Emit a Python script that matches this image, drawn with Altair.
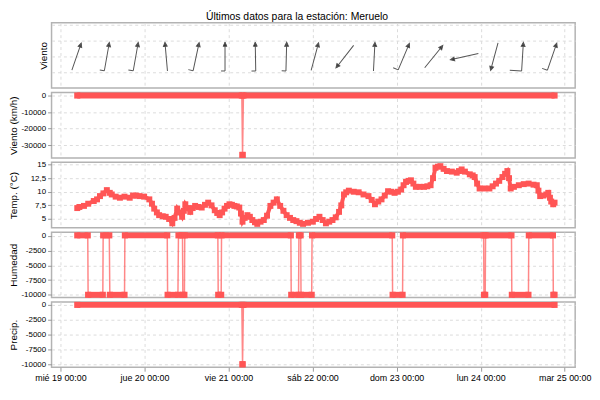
import altair as alt
import pandas as pd

# ---------------- data (hours since mié 19-03-2025 00:00 UTC) ----------------
# wind direction arrows
arrow_hours = [4.6, 13.25, 21.5, 30.2, 38.75, 47.0, 55.7, 64.5, 72.65, 81.2,
               89.6, 98.05, 106.6, 115.35, 123.9, 131.95, 140.4]
arrow_dir = [19, 10, 10, 355, 12, 0, 359, 1.5, 15, 218,
             3, 23, 39, 257, 195, 3.5, 19]
arrow_barb = [0, 4.7, 5, 0, 5, 4, 4.3, 4.3, 0, 0,
              0, 5.5, 0, 0, 0, 12, 5.7]

# wind speed (km/h): constant runs
wind_start = [4.8, 52.0, 52.25]
wind_end = [51.8, 52.0, 141.1]
wind_level = [0, -35996.4, 0]

# precipitation runs
prec_start = [4.8, 52.0, 52.25]
prec_end = [51.8, 52.0, 141.1]
prec_level = [0, -9999, 0]

# humidity runs
hum_start = [4.8, 7.9, 12.2, 14.1, 18.4, 30.6, 33.7, 34.95, 35.5, 45.05, 46.0,
             65.9, 68.1, 68.7, 71.85, 94.85, 97.8, 120.95, 121.4, 128.9, 133.75, 140.75]
hum_end = [7.8, 12.1, 13.95, 18.3, 30.5, 33.55, 34.85, 35.4, 44.95, 45.9, 65.8,
           68.0, 68.6, 71.75, 94.75, 97.7, 120.85, 121.3, 128.8, 133.65, 140.65, 141.1]
hum_level = [90, -9999, 90, -9999, 90, -9999, 90, -9999, 90, -9999, 90,
             -9999, 90, -9999, 90, -9999, 90, -9999, 90, -9999, 90, -9999]

# temperature
temp_hours = [4.8, 5.41, 6.72, 7.93, 9.52, 10.45, 11.29, 12.27, 13.25, 14.09, 14.65,
              15.77, 16.98, 18.29, 19.78, 20.73, 21.65, 22.58, 23.9, 25.38, 26.14,
              26.78, 27.54, 28.18, 29.22, 30.06, 31.04, 31.94, 32.58, 33.34, 33.98,
              34.74, 35.24, 35.66, 36.36, 37.06, 37.76, 38.46, 39.39, 40.34, 41.27,
              42.19, 43.14, 44.07, 44.77, 45.47, 46.17, 46.87, 47.57, 48.27, 48.97,
              49.67, 50.37, 51.07, 51.55, 51.99, 52.61, 53.39, 54.09, 54.8, 55.55,
              56.2, 57.15, 58.07, 59.0, 59.95, 60.87, 61.8, 62.75, 63.68, 64.6,
              65.55, 66.48, 67.4, 68.35, 69.28, 70.68, 72.08, 73.0, 73.96, 74.88,
              75.81, 76.76, 77.68, 78.61, 79.56, 80.2, 80.96, 81.6, 82.36, 83.76,
              85.16, 86.56, 87.96, 88.89, 89.81, 90.76, 91.69, 92.61, 93.56, 94.49,
              95.41, 96.37, 97.29, 97.99, 98.69, 99.39, 100.09, 100.79, 101.49, 102.61,
              103.82, 104.77, 105.7, 106.4, 107.1, 107.8, 108.5, 109.42, 110.37, 111.77,
              113.17, 113.81, 114.57, 115.5, 116.9, 117.73, 118.29, 118.99, 119.7, 121.1,
              122.5, 123.42, 124.38, 125.3, 126.23, 126.98, 127.63, 128.1, 128.58, 129.5,
              130.9, 132.3, 133.7, 135.1, 136.03, 136.5, 136.99, 137.91, 138.75, 139.31,
              139.79, 140.15, 140.71, 141.1]
temp_values = [7.0, 7.2, 7.4, 7.8, 8.3, 8.6, 9.2, 9.7, 10.3, 9.8, 9.5,
               9.1, 8.9, 9.1, 8.9, 9.3, 9.3, 9.2, 9.1, 8.6, 7.8,
               6.9, 6.2, 5.7, 5.5, 5.4, 5.0, 4.2, 5.2, 6.9, 6.2,
               5.4, 6.5, 7.7, 7.0, 6.3, 7.0, 7.4, 7.2, 7.1, 7.6,
               8.0, 7.5, 6.6, 6.1, 5.7, 6.2, 6.9, 7.4, 7.7, 7.6,
               7.4, 7.3, 7.1, 6.0, 4.5, 5.2, 5.7, 5.4, 4.8, 4.4,
               4.1, 4.5, 4.8, 5.6, 7.4, 8.0, 8.6, 7.4, 6.5, 5.7,
               5.2, 4.8, 4.6, 4.3, 4.1, 4.3, 4.5, 5.0, 5.4, 4.8,
               4.2, 4.5, 4.8, 5.3, 6.3, 7.5, 9.5, 9.9, 10.2, 10.0,
               9.9, 9.5, 9.2, 8.5, 7.7, 8.2, 8.6, 9.3, 10.1, 10.0,
               9.8, 10.0, 10.4, 11.2, 11.8, 12.0, 12.1, 11.5, 10.9, 10.9,
               10.9, 11.0, 11.2, 12.5, 14.4, 14.6, 14.7, 14.2, 13.8, 13.7,
               13.5, 13.8, 14.1, 13.7, 13.2, 13.0, 12.7, 11.5, 10.6, 10.6,
               10.6, 11.0, 11.5, 12.0, 12.7, 13.3, 13.8, 12.5, 10.6, 10.9,
               11.2, 11.4, 11.5, 11.3, 11.2, 10.2, 9.2, 9.3, 9.5, 9.8,
               8.9, 8.2, 7.7, 8.0]

day_ticks_hours = [0, 24, 48, 72, 96, 120, 144]

# ---------------- helpers ----------------
BASE = pd.Timestamp("2025-03-19T00:00:00Z")


def ms(h):
    return int((BASE + pd.Timedelta(hours=h)).value // 10**6)


RED = "#ff5555"
W, H = 529, 66
FONT = "Liberation Sans"
XS = alt.Scale(type="utc", domain=[ms(-2.54), ms(146.99)])
DAY_EXPR = ("['dom','lun','mar','mié','jue','vie','sáb'][utcday(datum.value)]"
            " + ' ' + utcFormat(datum.value, '%d %H:%M')")


def xaxis(bottom):
    if bottom:
        return alt.Axis(values=[ms(h) for h in day_ticks_hours], grid=True, labels=True,
                        ticks=True, title=None, labelExpr=DAY_EXPR, labelFontSize=9,
                        labelPadding=2, labelOverlap=False)
    return alt.Axis(values=[ms(h) for h in day_ticks_hours], grid=True, labels=False,
                    ticks=False, title=None)


def run_panel(starts, ends, levels, domain, ticks, title, bottom=False):
    rows = []
    for i, (a, b, lv) in enumerate(zip(starts, ends, levels)):
        rows.append(dict(o=2 * i, t=ms(a), v=lv))
        rows.append(dict(o=2 * i + 1, t=ms(b), v=lv))
    pts = pd.DataFrame(rows)
    seg = pd.DataFrame(dict(t=[ms(a) for a in starts], t1=[ms(b) for b in ends], v=levels))
    y = alt.Y("v:Q", scale=alt.Scale(domain=domain, nice=False, zero=False),
              axis=alt.Axis(values=ticks, title=title, titleX=-33, labelOverlap=False,
                            labelExpr="datum.value + ''"))
    x = alt.X("t:T", scale=XS, axis=xaxis(bottom))
    line = alt.Chart(pts).mark_line(color=RED, strokeWidth=1.5, opacity=0.7).encode(
        x=x, y=y, order="o:Q")
    band = alt.Chart(seg).mark_rule(color=RED, strokeWidth=6).encode(x=x, x2="t1:T", y=y)
    sq = alt.Chart(pts).mark_point(shape="square", filled=True, size=38, color=RED,
                                   opacity=1).encode(x=x, y=y)
    return alt.layer(line, band, sq).properties(width=W, height=H)


# ---------------- panel 1: wind direction ----------------
ARROW = "M0,1L0,-1M-0.13,-0.72L0,-1L0.13,-0.72Z"
arr = pd.DataFrame(dict(t=[ms(h) for h in arrow_hours], y=[2] * len(arrow_hours),
                        dir=arrow_dir, barb=arrow_barb))
arr["tail"] = ["M0,1L%.3f,1" % (-b / 14.5) for b in arr["barb"]]
yv = alt.Y("y:Q", scale=alt.Scale(domain=[0, 4.15], nice=False, zero=False),
           axis=alt.Axis(values=[1, 2, 3, 4], labels=False, ticks=False, title="Viento"))
xv = alt.X("t:T", scale=XS, axis=xaxis(False))
arrows = alt.Chart(arr).mark_point(shape=ARROW, size=840, fill="#111", stroke="#555",
                                   strokeWidth=1, opacity=1, fillOpacity=1).encode(
    x=xv, y=yv, angle=alt.Angle("dir:Q", scale=None))
tails = alt.Chart(arr).transform_filter("datum.barb > 0").mark_point(
    size=840, filled=False, stroke="#555", strokeWidth=1, opacity=1).encode(
    x=xv, y=yv, angle=alt.Angle("dir:Q", scale=None),
    shape=alt.Shape("tail:N", scale=None))
p1 = alt.layer(arrows, tails).properties(width=W, height=H)

# ---------------- panel 2: wind speed ----------------
p2 = run_panel(wind_start, wind_end, wind_level, [-37800, 1800],
               [0, -10000, -20000, -30000], "Viento (km/h)")

# ---------------- panel 3: temperature ----------------
tdf = pd.DataFrame(dict(t=[ms(h) for h in temp_hours], v=temp_values))
ty = alt.Y("v:Q", scale=alt.Scale(domain=[3.4, 15.4], nice=False, zero=False),
           axis=alt.Axis(values=[5, 7.5, 10, 12.5, 15], title="Temp. (°C)", titleX=-33,
                         labelOverlap=False,
                         labelExpr="replace(datum.value + '', '.', ',')"))
tx = alt.X("t:T", scale=XS, axis=xaxis(False))
tline = alt.Chart(tdf).mark_line(color=RED, strokeWidth=4).encode(x=tx, y=ty)
tpts = alt.Chart(tdf).mark_point(shape="square", filled=True, size=36, color=RED,
                                 opacity=1).encode(x=tx, y=ty)
p3 = alt.layer(tline, tpts).properties(width=W, height=H)

# ---------------- panel 4: humidity ----------------
p4 = run_panel(hum_start, hum_end, hum_level, [-10450, 640],
               [0, -2500, -5000, -7500, -10000], "Humedad")

# ---------------- panel 5: precipitation ----------------
p5 = run_panel(prec_start, prec_end, prec_level, [-10500, 500],
               [0, -2500, -5000, -7500, -10000], "Precip.", bottom=True)

chart = alt.vconcat(p1, p2, p3, p4, p5, spacing=4.5, bounds="flush").properties(
    title=alt.TitleParams("Últimos datos para la estación: Meruelo", fontSize=10.5,
                          fontWeight="normal", font=FONT, anchor="middle", color="black",
                          offset=0, dx=-3),
    padding={"left": 0, "top": 1, "right": 0, "bottom": 0},
).configure_view(stroke="#b3b3b3", strokeWidth=1.5).configure_axis(
    labelFont=FONT, labelFontSize=8, labelColor="black", titleFont=FONT,
    titleFontSize=10, titleFontWeight="normal", titleColor="black",
    gridColor="#dcdcdc", gridDash=[3, 3], domain=False, tickColor="#999",
    tickSize=4, labelPadding=2, titlePadding=3)

chart.save("out.html", embed_options={"renderer": "svg", "actions": False})
